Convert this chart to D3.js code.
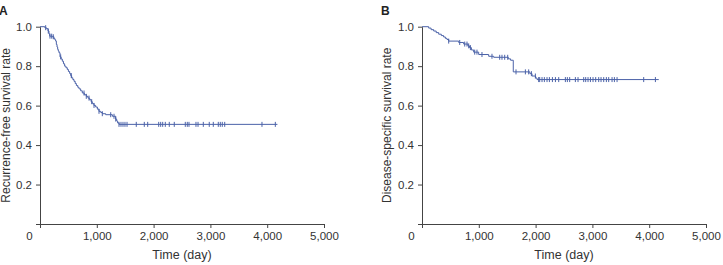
<!DOCTYPE html>
<html>
<head>
<meta charset="utf-8">
<script src="https://cdn.jsdelivr.net/npm/d3@7"></script>
<style>
  body { margin: 0; background: #fff; }
  svg { display: block; font-family: "Liberation Sans", Arial, sans-serif; }
  .axis path, .axis line { stroke: #444; }
  .axis text { fill: #333; font-size: 11.5px; }
</style>
</head>
<body>
<div id="chart"></div>
<script>
// Panel A: recurrence-free survival (event times in days, survival after each event)
const timesA = [85,112,141,158,170,217,246,265,276,288,300,311,322,334,352,372,393,413,434,457,481,500,522,540,557,578,599,620,640,665,687,716,745,780,815,845,874,900,921,950,980,1010,1039,1070,1097,1156,1274,1332,1350,1367,1391];
const survA = [0.995,0.99,0.978,0.964,0.952,0.949,0.939,0.933,0.927,0.91,0.897,0.885,0.877,0.868,0.847,0.836,0.825,0.812,0.80,0.792,0.783,0.773,0.763,0.752,0.741,0.732,0.723,0.712,0.702,0.693,0.685,0.675,0.664,0.655,0.647,0.638,0.630,0.62,0.610,0.601,0.593,0.582,0.571,0.565,0.559,0.554,0.546,0.532,0.522,0.512,0.505];
const censorA = [100,146,176,206,234,364,551,775,815,863,910,951,1039,1097,1245,1303,1333,1391,1426,1461,1496,1532,1695,1836,1896,2090,2125,2160,2206,2276,2364,2558,2593,2623,2746,2782,2875,2980,3051,3139,3174,3209,3252,3908,4143];
const endA = 4180;

// Panel B: disease-specific survival
const timesB = [118,160,206,250,294,340,380,411,440,470,646,734,810,835,870,910,998,1174,1262,1520,1560,1607,1900,1937,2000,2025];
const survB = [0.993,0.985,0.978,0.97,0.962,0.955,0.948,0.941,0.935,0.927,0.92,0.912,0.903,0.894,0.882,0.871,0.859,0.85,0.845,0.837,0.83,0.771,0.762,0.75,0.74,0.732];
const censorB = [470,664,752,792,822,852,928,968,1056,1232,1368,1408,1456,1509,1655,1820,1878,1926,1996,2054,2072,2113,2154,2201,2243,2296,2349,2407,2524,2559,2600,2700,2747,2847,2882,2923,2965,3011,3058,3111,3152,3199,3246,3287,3346,3387,3434,3903,4109];
const endB = 4168;

const xTicks = [0, 1000, 2000, 3000, 4000, 5000];
const yTicks = [0, 0.2, 0.4, 0.6, 0.8, 1.0];

const width = 723, height = 265;
const lineColor = "#4b62a8";

const svg = d3.select("#chart").append("svg")
    .attr("width", width)
    .attr("height", height);

function drawPanel(offsetX, letter, yLabel, labelX, times, surv, censor, end) {
    const g = svg.append("g").attr("transform", `translate(${offsetX},0)`);

    const x = d3.scaleLinear().domain([0, 5000]).range([41, 325]);
    const y = d3.scaleLinear().domain([0, 1]).range([224, 26.7]);

    // survival value at time t (step function)
    const survAt = t => {
        let s = 1;
        times.forEach((tt, i) => { if (tt <= t) s = surv[i]; });
        return s;
    };

    const pts = [[0, 1]].concat(times.map((t, i) => [t, surv[i]]), [[end, surv[surv.length - 1]]]);

    const line = d3.line()
        .x(d => x(d[0]))
        .y(d => y(d[1]))
        .curve(d3.curveStepAfter);

    g.append("path")
        .datum(pts)
        .attr("fill", "none")
        .attr("stroke", lineColor)
        .attr("stroke-width", 1)
        .attr("d", line);

    g.selectAll(".censor")
        .data(censor)
        .enter()
        .append("line")
        .attr("class", "censor")
        .attr("x1", d => x(d))
        .attr("x2", d => x(d))
        .attr("y1", d => y(survAt(d)) - 2.5)
        .attr("y2", d => y(survAt(d)) + 2.5)
        .attr("stroke", lineColor)
        .attr("stroke-width", 1);

    const xAxis = g.append("g")
        .attr("class", "axis")
        .attr("transform", `translate(0,${y(0)})`)
        .call(d3.axisBottom(x).tickValues(xTicks).tickSize(4).tickSizeOuter(0).tickPadding(4)
            .tickFormat(d3.format(",")));
    xAxis.selectAll(".tick text").filter(d => d === 0).attr("x", -11);

    g.append("g")
        .attr("class", "axis")
        .attr("transform", `translate(${x(0)},0)`)
        .call(d3.axisLeft(y).tickValues(yTicks).tickSize(4).tickSizeOuter(0).tickPadding(4)
            .tickFormat(d => d === 0 ? "" : d3.format(".1f")(d)));

    g.append("text")
        .attr("x", (x(0) + x(5000)) / 2)
        .attr("y", 259)
        .attr("text-anchor", "middle")
        .attr("font-size", "12.5px")
        .attr("fill", "#333")
        .text("Time (day)");

    g.append("text")
        .attr("transform", `translate(${labelX},${(y(0) + y(1)) / 2}) rotate(-90)`)
        .attr("text-anchor", "middle")
        .attr("font-size", "12px")
        .attr("fill", "#333")
        .text(yLabel);

    g.append("text")
        .attr("x", 0)
        .attr("y", 15)
        .attr("font-size", "12px")
        .attr("font-weight", "bold")
        .attr("fill", "#222")
        .text(letter);
}

drawPanel(-1, "A", "Recurrence-free survival rate", 10.5, timesA, survA, censorA, endA);
drawPanel(381, "B", "Disease-specific survival rate", 10, timesB, survB, censorB, endB);
</script>
</body>
</html>
